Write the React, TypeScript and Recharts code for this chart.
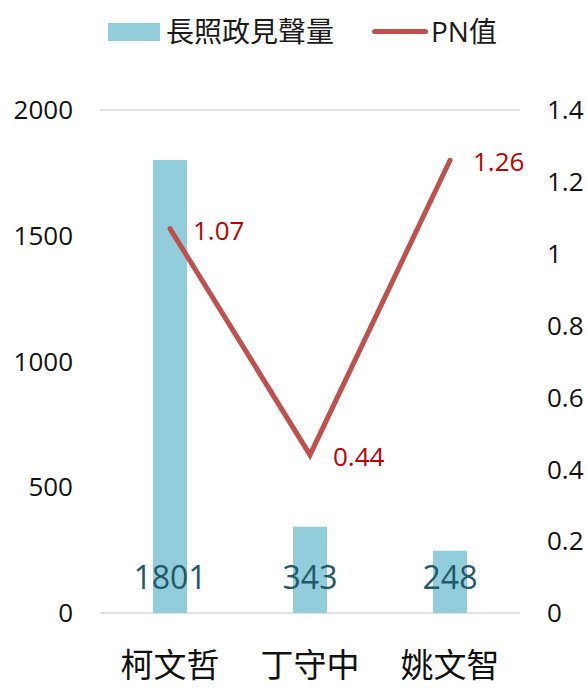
import { ComposedChart, Bar, Line, XAxis, YAxis, CartesianGrid, LabelList } from 'recharts';

const candidates = ['柯文哲', '丁守中', '姚文智'];
const volume = [1801, 343, 248];
const pnValue = [1.07, 0.44, 1.26];
const leftTicks = [0, 500, 1000, 1500, 2000];
const rightTicks = [0, 0.2, 0.4, 0.6, 0.8, 1, 1.2, 1.4];

const FONT = '"Open Sans", "Noto Sans CJK TC", sans-serif';

const data = candidates.map((name, i) => ({ name, volume: volume[i], pn: pnValue[i] }));

function BarValue(props: any) {
  const { x, y, width, height, value } = props;
  return (
    <text
      x={x + width / 2}
      y={y + height - 37}
      textAnchor="middle"
      dominantBaseline="central"
      fontSize={32}
      fill="#215968"
      fontFamily={FONT}
    >
      {value}
    </text>
  );
}

function PnValue(props: any) {
  const { x, y, value } = props;
  return (
    <text x={x + 23} y={y + 1} dominantBaseline="central" fontSize={26} fill="#C00000" fontFamily={FONT}>
      {value.toFixed(2)}
    </text>
  );
}

export default function App() {
  return (
    <div style={{ position: 'absolute', left: 0, top: 0, width: 587, height: 690, background: '#fff', fontFamily: FONT }}>
      <div style={{ position: 'absolute', left: 108, top: 23, width: 52, height: 18, background: '#92CDDC' }} />
      <div style={{ position: 'absolute', left: 166, top: 11, fontSize: 28, lineHeight: '40px', color: '#1a1a1a' }}>長照政見聲量</div>
      <div style={{ position: 'absolute', left: 372, top: 29, width: 56, height: 5, borderRadius: 3, background: '#C0504D' }} />
      <div style={{ position: 'absolute', left: 431, top: 11, fontSize: 28, lineHeight: '40px', color: '#1a1a1a' }}>PN值</div>
      <ComposedChart width={587} height={690} data={data} margin={{ top: 110, right: 0, left: 0, bottom: 0 }}>
        <CartesianGrid vertical={false} stroke="#d9d9d9" strokeWidth={1.5} />
        <XAxis
          dataKey="name"
          height={77}
          axisLine={false}
          tickLine={false}
          tickSize={0}
          tickMargin={41}
          tick={{ fontSize: 33, fill: '#111', fontFamily: FONT }}
        />
        <YAxis
          yAxisId="left"
          width={100}
          domain={[0, 2000]}
          ticks={leftTicks}
          axisLine={false}
          tickLine={false}
          tickSize={0}
          tickMargin={27}
          tick={{ fontSize: 26, fill: '#111', fontFamily: FONT }}
        />
        <YAxis
          yAxisId="right"
          orientation="right"
          width={67}
          domain={[0, 1.4]}
          ticks={rightTicks}
          axisLine={false}
          tickLine={false}
          tickSize={0}
          tickMargin={27}
          tick={{ fontSize: 26, fill: '#111', fontFamily: FONT }}
        />
        <Bar yAxisId="left" dataKey="volume" fill="#92CDDC" barSize={34} isAnimationActive={false}>
          <LabelList dataKey="volume" content={<BarValue />} />
        </Bar>
        <Line
          yAxisId="right"
          dataKey="pn"
          stroke="#C0504D"
          strokeWidth={5}
          strokeLinecap="round"
          dot={false}
          activeDot={false}
          isAnimationActive={false}
        >
          <LabelList dataKey="pn" content={<PnValue />} />
        </Line>
      </ComposedChart>
    </div>
  );
}
